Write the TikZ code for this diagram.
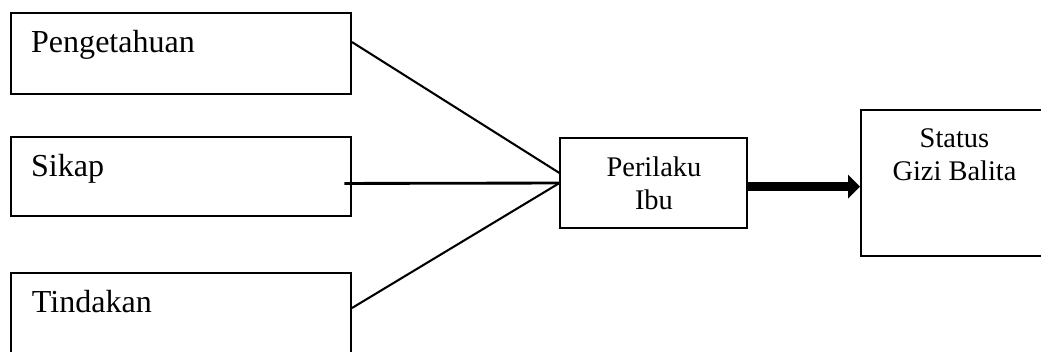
\documentclass[tikz,border=0pt]{standalone}
\usepackage{fontspec}
\setmainfont{Liberation Serif}
\usetikzlibrary{arrows.meta, positioning}

\begin{document}
\begin{tikzpicture}[
    box/.style={draw, line width=0.75pt, minimum width=4.624cm, inner sep=0pt},
    midbox/.style={draw, line width=0.75pt, minimum width=2.543cm, inner sep=0pt, align=center, font=\fontsize{11}{12.8}\selectfont},
    lbl/.style={anchor=base west, inner sep=0pt, font=\fontsize{12.4}{14}\selectfont},
    link/.style={line width=0.8pt}
  ]
      \useasboundingbox (0,0) rectangle (14.158,-4.774);
      \clip (0,0) rectangle (14.158,-4.774);

      % Left: three factors
      \node[box, minimum height=1.102cm] (pen) at (2.462,-0.728) {};
      \node[box, minimum height=1.074cm] (sik) at (2.462,-2.400) {};
      \node[box, minimum height=1.088cm] (tin) at (2.462,-4.257) {};
      \node[lbl] (penlbl) at ([shift={(0.280,-0.544)}]pen.north west) {Pengetahuan};
      \node[lbl] (siklbl) at ([shift={(0.280,-0.544)}]sik.north west) {Sikap};
      \node[lbl] (tinlbl) at ([shift={(0.290,-0.544)}]tin.north west) {Tindakan};

      % Middle and right
      \node[midbox, minimum height=1.224cm] (peri) at (8.894,-2.489) {Perilaku\\Ibu};
      \node[midbox, minimum height=1.986cm] (stat) at (12.981,-2.489) {};
      \node[anchor=north, inner sep=0pt, align=center, font=\fontsize{11}{12.8}\selectfont] (statlbl) at ([yshift=-0.254cm]stat.north) {Status\\Gizi Balita};

      % Lines into Perilaku Ibu
      \draw[link] ([yshift=0.156cm]pen.east) -- ([yshift=0.136cm]peri.west);
      \draw[line width=1.1pt] ([shift={(-0.105,-0.095)}]sik.east) -- (peri.west);
      \draw[link] ([yshift=0.068cm]tin.east) -- (peri.west);

      % Thick arrow
      \draw[-{Triangle[length=4.6pt, width=8.9pt]}, line width=3.7pt] ([yshift=-0.048cm]peri.east) -- ([yshift=-0.048cm]stat.west);
\end{tikzpicture}
\end{document}
